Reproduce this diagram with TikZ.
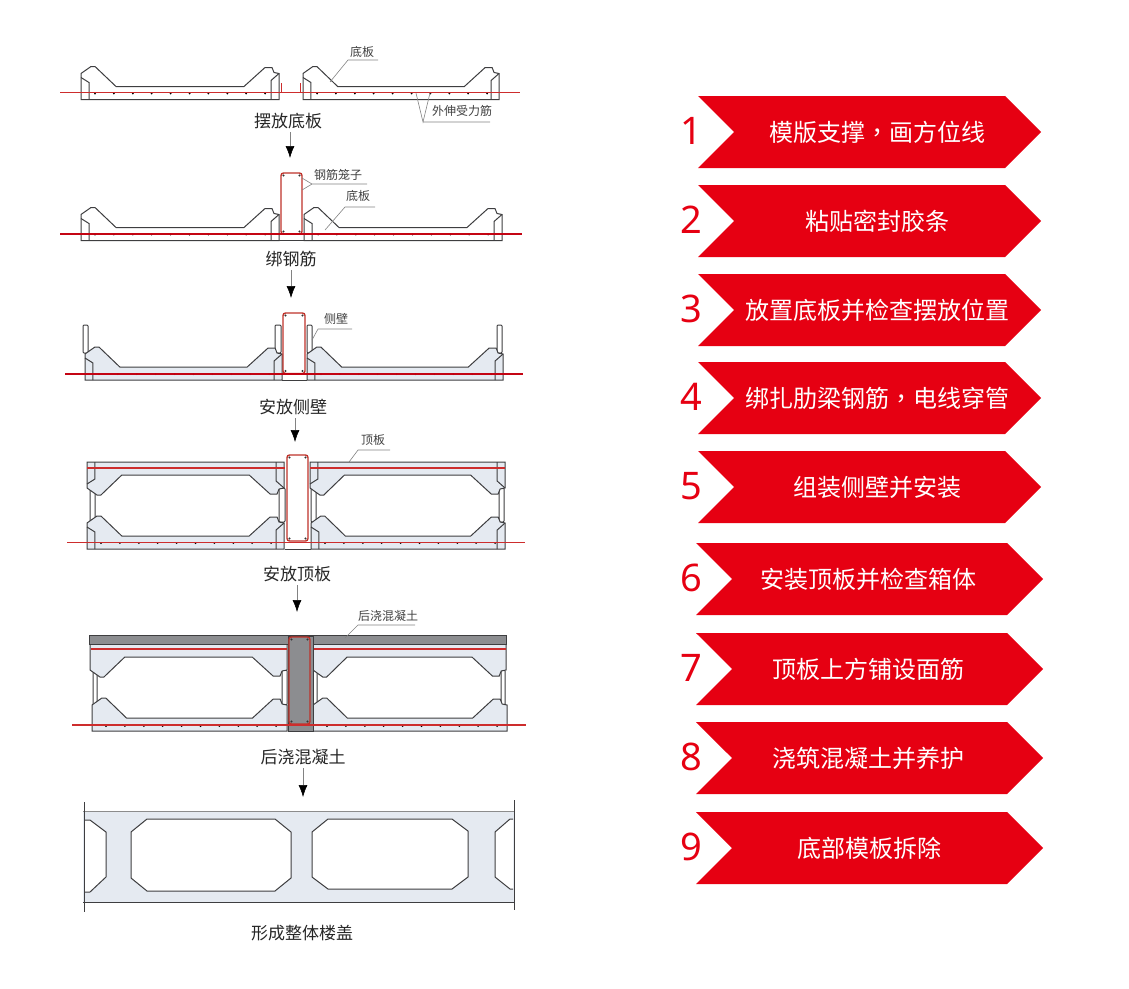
\documentclass[tikz,border=0pt]{standalone}
\usepackage{fontspec}
\usepackage{xcolor}
\setmainfont{Noto Sans CJK SC}
\newfontfamily\numfont{Noto Sans}
\newfontfamily\commafont{Noto Sans CJK TC}
\usetikzlibrary{shapes.symbols, arrows.meta, positioning, calc}
\definecolor{primary}{RGB}{230, 0, 18}
\definecolor{border}{RGB}{62, 62, 64}
\definecolor{barred}{RGB}{205, 45, 45}
\definecolor{cagered}{RGB}{190, 50, 42}
\definecolor{slabfill}{RGB}{229, 234, 241}
\definecolor{pourfill}{RGB}{140, 141, 144}
\definecolor{leadgray}{RGB}{130, 130, 130}
\tikzstyle{stepbox} = [signal, signal from=west, signal to=east, signal pointer angle=90, minimum height=72pt, inner sep=0pt, fill=primary, draw=none]
\tikzstyle{steptext} = [font=\fontsize{24}{24}\selectfont, text=white, inner sep=0pt]
\tikzstyle{stepnum} = [font=\numfont\fontsize{38}{38}\selectfont, text=primary, inner sep=0pt]
\tikzstyle{caption} = [font=\fontsize{17}{17}\selectfont, text=black!85]
\tikzstyle{note} = [font=\fontsize{12}{12}\selectfont, text=black!75, inner sep=0pt]
\tikzstyle{leader} = [draw=leadgray, line width=0.6pt]
\tikzstyle{slabline} = [draw=border, line width=1pt]
\tikzstyle{steel} = [fill=barred, draw=none]
\tikzstyle{arrow} = [draw=leadgray, line width=0.6pt, -{Latex[length=12pt, width=9pt, black]}]
% one precast slab: origin at the outer bottom corner, #5 is its fill
\newcommand{\slabpart}[5]{
    \begin{scope}[shift={(#1,#2)}, xscale=#3, yscale=#4]
        \draw [slabline, fill=#5] (0,0) -- (0,-26) -- (10,-33) -- (14,-33) -- (35,-13) -- (163,-13) -- (184,-32) -- (191,-32) -- (193,-27) -- (198,-26) -- (198,0) -- cycle;
    \end{scope}
}
\newcommand{\slabinner}[4]{
    \begin{scope}[shift={(#1,#2)}, xscale=#3, yscale=#4]
        \draw [slabline] (0,-22) -- (8,-17) -- (8,0);
        \draw [slabline] (198,-26) -- (190,-19) -- (190,0);
    \end{scope}
}
\newcommand{\bardots}[2]{
    \foreach \k in {0,...,9} \fill [black] (#1+14+18.9*\k,#2+1) circle (1);
}
% one long bar as a thin strip
\newcommand{\barline}[3]{
    \path [steel] (#1,#3-0.75) rectangle (#2,#3+0.75);
}
\newcommand{\cagepart}[5]{
    \draw [draw=cagered, line width=1.4pt, rounded corners=2.5pt, fill=#5] (#1,#2) rectangle (#3,#4);
    \fill [black!80] (#1+2.5,#2+2.5) circle (1.2) (#3-2.5,#2+2.5) circle (1.2) (#1+2.5,#4-2.5) circle (1.2) (#3-2.5,#4-2.5) circle (1.2);
}
\newcommand{\wallpart}[5]{
    \draw [slabline, fill=#5, rounded corners=1pt] (#1,#3) rectangle (#2,#4);
}
\begin{document}
\begin{tikzpicture}[x=1pt, y=-1pt]
    \useasboundingbox (0,0) rectangle (1129,988);

    % Steps on the right
    \foreach \n/\wid/\ya/\xb/\txt in {
        1/343/132/877/{模版支撑{\commafont ，}画方位线},
        2/343/221/877/粘贴密封胶条,
        3/343/310/877/放置底板并检查摆放位置,
        4/343/398/877/{绑扎肋梁钢筋{\commafont ，}电线穿管},
        5/343/487/877/组装侧壁并安装,
        6/347/579/868/安装顶板并检查箱体,
        7/347/669/868/顶板上方铺设面筋,
        8/347/758/868/浇筑混凝土并养护,
        9/347/848/869/底部模板拆除}{
        \node (step\n) [stepbox, minimum width=\wid pt] at (869.5,\ya) {};
        \node (text\n) [steptext] at (\xb,\ya) {\txt};
        \node (num\n) [stepnum] at ($(step\n.center)+(-178,-1)$) {\n};
    }

    % Panel 1
    \slabpart{81}{99.5}{1}{1}{white}
    \slabpart{303}{99.5}{0.99}{1}{white}
    \slabinner{81}{99.5}{1}{1}
    \slabinner{303}{99.5}{0.99}{1}
    \bardots{81}{92.5}
    \bardots{303}{92.5}
    \barline{60}{520}{92.5}
    \draw [draw=barred, line width=0.5pt] (281,83) -- (281,92) (300,83) -- (300,92);
    \node (note1) [note] at (362,52) {底板};
    \coordinate (note1a) at (348,60);
    \coordinate (note1b) at (378,60);
    \coordinate (note1c) at (330,82);
    \draw [leader] (note1c) -- (note1a) -- (note1b);
    \node (note2) [note] at (462,111) {外伸受力筋};
    \coordinate (note2a) at (423,122);
    \coordinate (note2b) at (490,122);
    \coordinate (note2c) at (416,93);
    \coordinate (note2d) at (430,93);
    \draw [leader] (note2c) -- (note2a) -- (note2d) (note2a) -- (note2b);
    \node (cap1) [caption] at (288,121) {摆放底板};
    \coordinate (end1) at (290,158);
    \draw [arrow] (end1 |- cap1.south) -- (end1);

    % Panel 2
    \draw [slabline] (279,240.5) -- (304,240.5);
    \slabpart{81}{240.5}{1}{1}{white}
    \slabpart{304}{240.5}{1}{1}{white}
    \slabinner{81}{240.5}{1}{1}
    \slabinner{304}{240.5}{1}{1}
    \bardots{81}{233.5}
    \bardots{304}{233.5}
    \cagepart{281}{173}{302}{234}{white}
    \path [steel, fill=primary!85!black, fill opacity=0.98] (60,233) rectangle (522,234.6);
    \node (note3) [note] at (338,175) {钢筋笼子};
    \coordinate (note3a) at (312,184);
    \coordinate (note3b) at (367,184);
    \coordinate (note3c) at (302,178);
    \coordinate (note3d) at (302,190);
    \draw [leader] (note3c) -- (note3a) -- (note3d) (note3a) -- (note3b);
    \node (note4) [note] at (358,196) {底板};
    \coordinate (note4a) at (345,207);
    \coordinate (note4b) at (375,207);
    \coordinate (note4c) at (325,230);
    \draw [leader] (note4c) -- (note4a) -- (note4b);
    \node (cap2) [caption] at (291,259) {绑钢筋};
    \coordinate (end2) at (291,298);
    \draw [arrow] (end2 |- cap2.south) -- (end2);

    % Panel 3
    \wallpart{83}{88}{325}{353}{white}
    \wallpart{275}{281}{325}{353}{white}
    \wallpart{307}{312}{325}{353}{white}
    \wallpart{497}{502}{325}{353}{white}
    \draw [slabline] (282,380) -- (307,380);
    \slabpart{85}{380}{0.995}{1}{slabfill}
    \slabpart{307}{380}{0.99}{1}{slabfill}
    \slabinner{85}{380}{0.995}{1}
    \slabinner{307}{380}{0.99}{1}
    \bardots{85}{373}
    \bardots{307}{373}
    \cagepart{283}{313}{305}{373.5}{white}
    \path [steel, fill=primary!85!black, fill opacity=0.98] (65,373) rectangle (523,374.6);
    \node (note5) [note] at (336,319) {侧壁};
    \coordinate (note5a) at (318,329);
    \coordinate (note5b) at (352,329);
    \coordinate (note5c) at (312,340);
    \draw [leader] (note5c) -- (note5a) -- (note5b);
    \node (cap3) [caption] at (293,407) {安放侧壁};
    \coordinate (end3) at (295,442);
    \draw [arrow] (end3 |- cap3.south) -- (end3);

    % Panel 4
    \wallpart{90}{95}{488}{522}{white}
    \wallpart{279}{285}{488}{522}{white}
    \wallpart{311}{316}{488}{522}{white}
    \wallpart{499}{504}{488}{522}{white}
    \draw [slabline] (285,549) -- (311,549);
    \slabpart{87}{549}{0.995}{1}{slabfill}
    \slabpart{311}{549}{0.98}{1}{slabfill}
    \slabinner{87}{549}{0.995}{1}
    \slabinner{311}{549}{0.98}{1}
    \slabpart{87}{462}{0.995}{-1}{slabfill}
    \slabpart{310}{462}{0.985}{-1}{slabfill}
    \slabinner{87}{462}{0.995}{-1}
    \slabinner{310}{462}{0.985}{-1}
    \bardots{87}{542}
    \bardots{311}{542}
    \barline{87}{285}{468}
    \barline{310}{505}{468}
    \cagepart{287}{455}{308}{541}{white}
    \barline{67}{525}{542.5}
    \node (note6) [note] at (373,440) {顶板};
    \coordinate (note6a) at (358,450);
    \coordinate (note6b) at (390,450);
    \coordinate (note6c) at (349,462);
    \draw [leader] (note6c) -- (note6a) -- (note6b);
    \node (cap4) [caption] at (297,574) {安放顶板};
    \coordinate (end4) at (297,612);
    \draw [arrow] (end4 |- cap4.south) -- (end4);

    % Panel 5
    \wallpart{93}{97}{670}{705}{white}
    \wallpart{282}{287}{670}{705}{white}
    \wallpart{313}{317}{670}{705}{white}
    \wallpart{501}{505}{670}{705}{white}
    \slabpart{92}{731}{0.985}{1}{slabfill}
    \slabpart{313}{731}{0.98}{1}{slabfill}
    \slabpart{90}{644}{0.995}{-1}{slabfill}
    \slabpart{313}{644}{0.975}{-1}{slabfill}
    \fill [pourfill, draw=border, line width=0.5pt] (89,635) rectangle (506,644);
    \bardots{92}{725}
    \bardots{313}{725}
    \barline{91}{287}{649}
    \barline{313}{506}{649}
    \fill [pourfill, draw=border, line width=0.5pt] (288,636) rectangle (313,731);
    \cagepart{289}{637}{310}{724}{pourfill}
    \barline{72}{526}{725}
    \node (note7) [note] at (388,616) {后浇混凝土};
    \coordinate (note7a) at (358,625);
    \coordinate (note7b) at (415,625);
    \coordinate (note7c) at (345,638);
    \draw [leader] (note7c) -- (note7a) -- (note7b);
    \node (cap5) [caption] at (303,757) {后浇混凝土};
    \coordinate (end5) at (303,797);
    \draw [arrow] (end5 |- cap5.south) -- (end5);

    % Panel 6
    \fill [slabfill] (83,811) rectangle (514,902);
    \draw [slabline, draw=black!45] (83,811) -- (514,811);
    \draw [slabline] (83,902) -- (514,902);
    \draw [slabline, fill=white] (147,819) -- (275,819) -- (291,832) -- (291,878) -- (275,891) -- (147,891) -- (131,878) -- (131,832) -- cycle;
    \draw [slabline, fill=white] (328,819) -- (452,819) -- (468,831) -- (468,877) -- (452,889) -- (328,889) -- (312,877) -- (312,832) -- cycle;
    \draw [slabline, fill=white] (84,820) -- (90,820) -- (106,832) -- (106,877) -- (90,892) -- (84,892);
    \draw [slabline, fill=white] (513,819) -- (510,819) -- (495,832) -- (495,877) -- (510,889) -- (513,889);
    \draw [slabline] (84,802) -- (84,912);
    \draw [slabline] (514,800) -- (514,910);
    \node (cap6) [caption] at (302,933) {形成整体楼盖};
\end{tikzpicture}
\end{document}
